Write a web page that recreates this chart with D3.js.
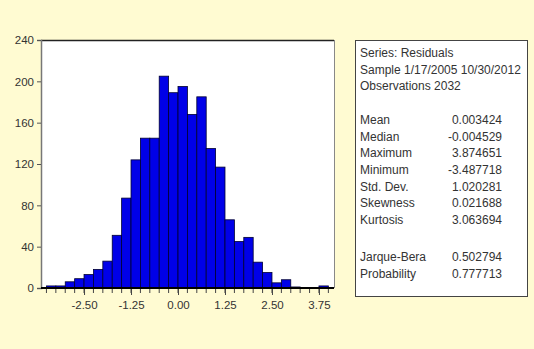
<!DOCTYPE html>
<html>
<head>
<meta charset="utf-8">
<script src="https://cdn.jsdelivr.net/npm/d3@7"></script>
<style>
  html, body { margin: 0; padding: 0; background: #fffbd2; }
  svg { display: block; }
  text { font-family: "Liberation Sans", Arial, sans-serif; }
</style>
</head>
<body>
<svg id="chart" width="534" height="349"></svg>
<script>
// ---- data ----
const binStarts = [-3.5,-3.25,-3.0,-2.75,-2.5,-2.25,-2.0,-1.75,-1.5,-1.25,-1.0,-0.75,-0.5,-0.25,
                   0.0,0.25,0.5,0.75,1.0,1.25,1.5,1.75,2.0,2.25,2.5,2.75,3.0,3.25,3.5,3.75];
const counts    = [2,2,6,9,13,18,26,51,87,124,145,145,205,189,
                   195,168,185,135,117,66,45,49,25,15,5,8,1,0,0,2];
const binWidth = 0.25;
const yTicks = [0,40,80,120,160,200,240];
const xTickValues = [-2.5,-1.25,0,1.25,2.5,3.75];
const xTickLabels = ["-2.50","-1.25","0.00","1.25","2.50","3.75"];
const statsHeader = ["Series: Residuals","Sample 1/17/2005 10/30/2012","Observations 2032"];
const statNames  = ["Mean","Median","Maximum","Minimum","Std. Dev.","Skewness","Kurtosis"];
const statValues = ["0.003424","-0.004529","3.874651","-3.487718","1.020281","0.021688","3.063694"];
const testNames  = ["Jarque-Bera","Probability"];
const testValues = ["0.502794","0.777713"];

// ---- layout ----
const svg = d3.select("#chart");
const plot = {left: 41, top: 40, right: 334, bottom: 288};

svg.append("rect").attr("width",534).attr("height",349).attr("fill","#fffbd2");

const x = d3.scaleLinear().domain([-3.645, 4.15]).range([plot.left, plot.right]);
const y = d3.scaleLinear().domain([0, 240]).range([plot.bottom, plot.top]);

// plot background
svg.append("rect")
  .attr("x", plot.left).attr("y", plot.top)
  .attr("width", plot.right - plot.left).attr("height", plot.bottom - plot.top)
  .attr("fill", "#ffffff");

// bars
svg.append("g").selectAll("rect")
  .data(binStarts.map((b,i)=>({b, c: counts[i]})))
  .join("rect")
  .attr("x", d => x(d.b))
  .attr("width", d => x(d.b + binWidth) - x(d.b))
  .attr("y", d => y(d.c))
  .attr("height", d => y(0) - y(d.c))
  .attr("fill", "#0000e8")
  .attr("stroke", "#000030")
  .attr("stroke-width", 0.8);

// frame: top and right
svg.append("line").attr("x1",plot.left).attr("x2",plot.right).attr("y1",plot.top+0.5).attr("y2",plot.top+0.5)
  .attr("stroke","#222").attr("stroke-width",1.5);
svg.append("line").attr("x1",plot.right+0.5).attr("x2",plot.right+0.5).attr("y1",plot.top).attr("y2",plot.bottom)
  .attr("stroke","#888").attr("stroke-width",1);

// y axis
const yAxis = d3.axisLeft(y).tickValues(yTicks).tickSize(4).tickPadding(3).tickFormat(d3.format("d"));
const gy = svg.append("g").attr("transform",`translate(${plot.left},0)`).call(yAxis);
gy.select(".domain").attr("stroke","#777").attr("stroke-width",1.5);
gy.selectAll(".tick line").attr("stroke","#555");
gy.selectAll("text").attr("font-size",11.5).attr("fill","#333")
  .attr("font-family","'Liberation Sans', Arial, sans-serif");

// x axis minor ticks
const minor = d3.range(-3.5, 4.001, 0.25);
svg.append("g").selectAll("line").data(minor).join("line")
  .attr("x1", d=>x(d)).attr("x2", d=>x(d))
  .attr("y1", plot.bottom).attr("y2", plot.bottom+5)
  .attr("stroke","#444").attr("stroke-width",1);

// x axis major
const xAxis = d3.axisBottom(x).tickValues(xTickValues).tickSize(7).tickPadding(6)
  .tickFormat((d,i)=>xTickLabels[i]);
const gx = svg.append("g").attr("transform",`translate(0,${plot.bottom})`).call(xAxis);
gx.select(".domain").remove();
gx.selectAll(".tick line").attr("stroke","#444");
gx.selectAll("text").attr("font-size",11.5).attr("fill","#333")
  .attr("font-family","'Liberation Sans', Arial, sans-serif");

// baseline
svg.append("line").attr("x1",plot.left).attr("x2",plot.right).attr("y1",plot.bottom).attr("y2",plot.bottom)
  .attr("stroke","#000").attr("stroke-width",2);

// ---- stats box ----
const box = {x: 355, y: 40, w: 172, h: 256};
svg.append("rect").attr("x",box.x+0.5).attr("y",box.y+0.5).attr("width",box.w).attr("height",box.h)
  .attr("fill","#ffffff").attr("stroke","#444").attr("stroke-width",1);

const lineH = 16.7;
const tx = box.x + 5, vx = box.x + 147;
const g = svg.append("g").attr("font-size",12).attr("fill","#333");
statsHeader.forEach((t,i)=>{
  g.append("text").attr("x",tx).attr("y",box.y + 17 + i*lineH).text(t);
});
statNames.forEach((t,i)=>{
  const yy = box.y + 17 + (i+4)*lineH;
  g.append("text").attr("x",tx).attr("y",yy).text(t);
  g.append("text").attr("x",vx).attr("y",yy).attr("text-anchor","end").text(statValues[i]);
});
testNames.forEach((t,i)=>{
  const yy = box.y + 17 + (i+12)*lineH + 4;
  g.append("text").attr("x",tx).attr("y",yy).text(t);
  g.append("text").attr("x",vx).attr("y",yy).attr("text-anchor","end").text(testValues[i]);
});
</script>
</body>
</html>
